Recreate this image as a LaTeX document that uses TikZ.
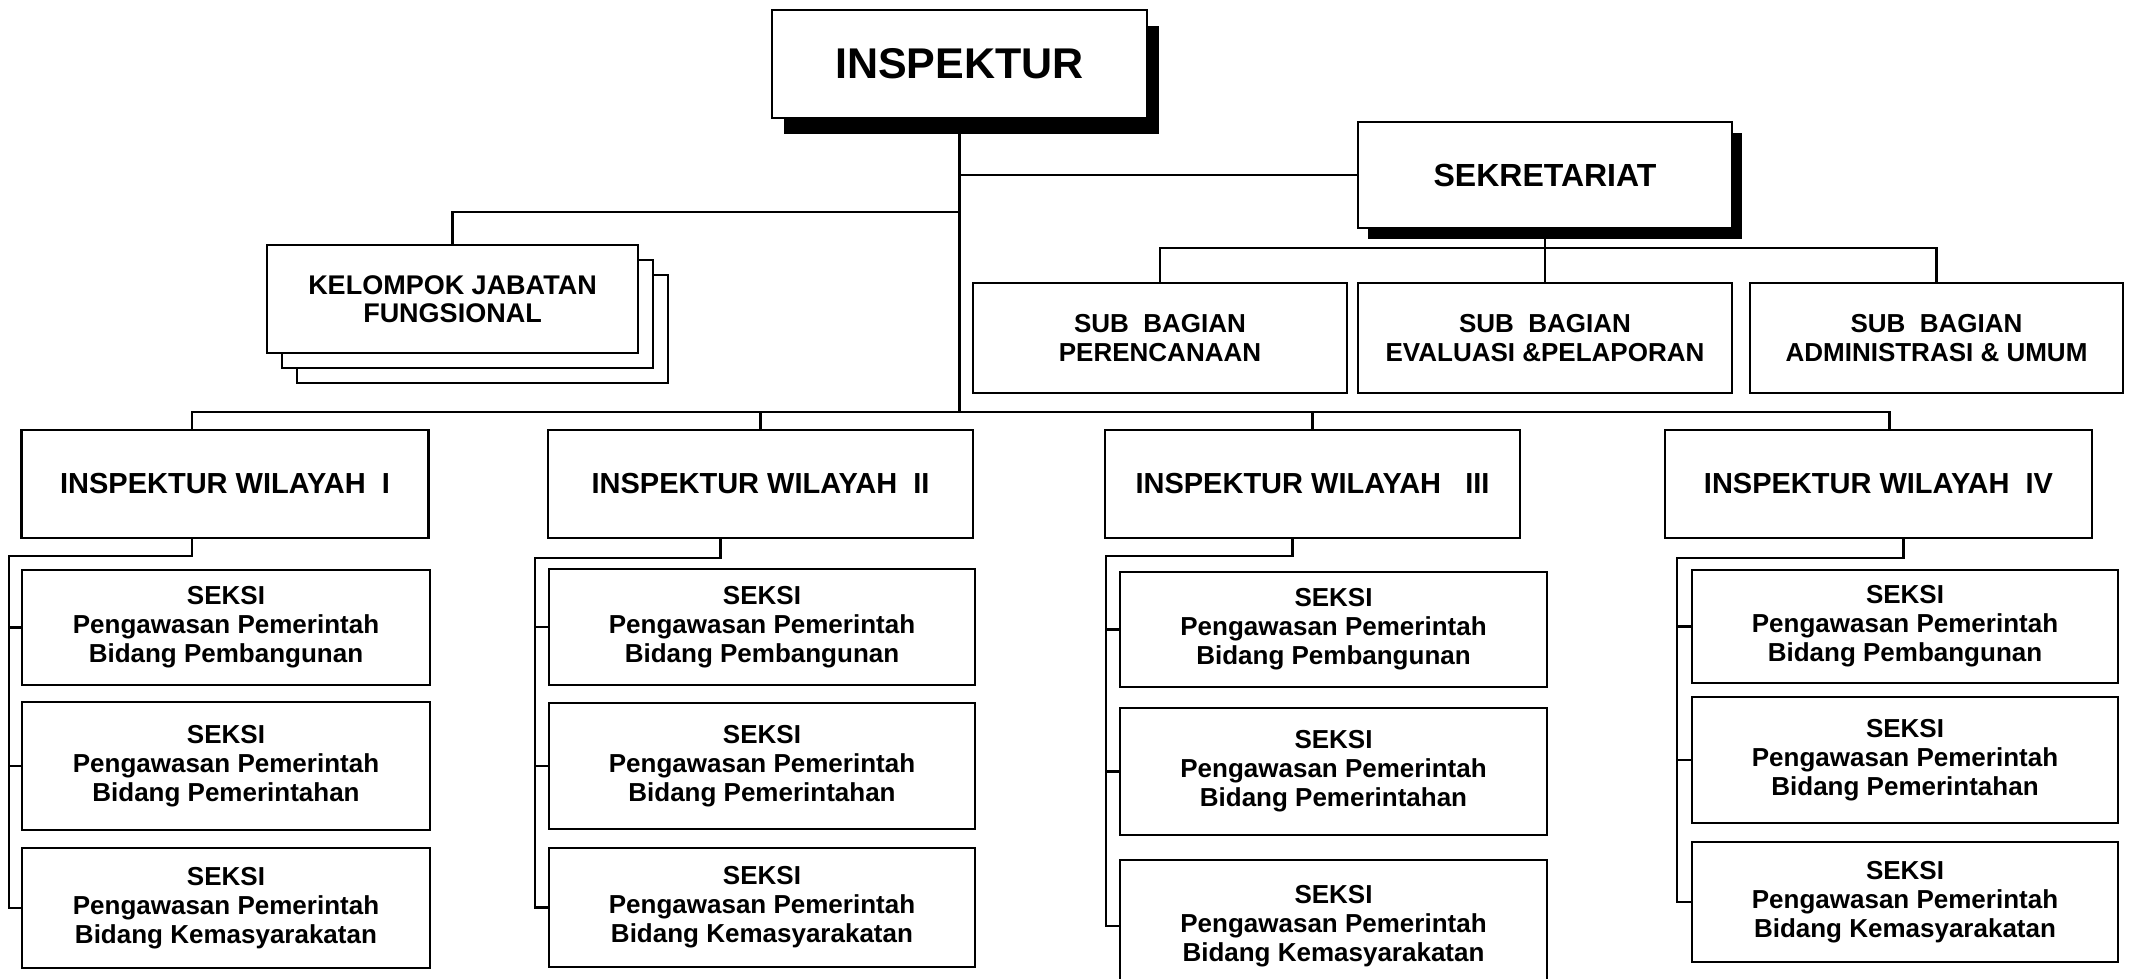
\documentclass[tikz,border=0pt]{standalone}
\usepackage{fontspec}
\setmainfont{Liberation Sans}
\usetikzlibrary{shadows, positioning, calc}

\tikzset{
  box/.style={draw, fill=white, line width=2.4pt, align=center, inner sep=0pt,
    font=\fontsize{26}{29}\selectfont\bfseries},
  wbox/.style={box, minimum height=108pt, font=\fontsize{29}{32}\selectfont\bfseries},
  link/.style={line width=2.4pt},
  stackcopy/.style={copy shadow={shadow xshift=#1pt, shadow yshift=-#1pt, draw=black, fill=white, line width=2.4pt}},
}

\begin{document}
\begin{tikzpicture}[x=1pt, y=-1pt]
\useasboundingbox (0,0) rectangle (2133,978);

% pimpinan
\node[box, minimum width=375pt, minimum height=108pt, font=\fontsize{43}{48}\selectfont\bfseries,
  drop shadow={shadow xshift=12pt, shadow yshift=-16pt, fill=black, opacity=1}] (insp) at (959.5,64) {INSPEKTUR};

\node[box, minimum width=374pt, minimum height=106pt, font=\fontsize{32}{36}\selectfont\bfseries,
  drop shadow={shadow xshift=10pt, shadow yshift=-11pt, fill=black, opacity=1}] (sekr) at (1545,175) {SEKRETARIAT};

\node[box, minimum width=371pt, minimum height=108pt, font=\fontsize{27}{28}\selectfont\bfseries,
  stackcopy=30, stackcopy=15] (kjf) at (452.5,299) {KELOMPOK JABATAN\\FUNGSIONAL};

% sub bagian
\node[box, minimum width=374pt, minimum height=110pt] (sb1) at (1160,338) {SUB~~BAGIAN\\PERENCANAAN};
\node[box, minimum width=374pt, minimum height=110pt] (sb2) at (1545,338) {SUB~~BAGIAN\\EVALUASI \&PELAPORAN};
\node[box, minimum width=373pt, minimum height=110pt] (sb3) at (1936.5,338) {SUB~~BAGIAN\\ADMINISTRASI \& UMUM};

% inspektur wilayah
\node[wbox, minimum width=407pt] (wI) at (225,484) {INSPEKTUR WILAYAH~~I};
\node[wbox, minimum width=425pt] (wII) at (760.5,484) {INSPEKTUR WILAYAH~~II};
\node[wbox, minimum width=415pt] (wIII) at (1312.5,484) {INSPEKTUR WILAYAH~~~III};
\node[wbox, minimum width=427pt] (wIV) at (1878.5,484) {INSPEKTUR WILAYAH~~IV};

% seksi wilayah I
\node[box, minimum width=408pt, minimum height=115pt] (sI1) at (226,627.5) {SEKSI\\Pengawasan Pemerintah\\Bidang Pembangunan};
\node[box, minimum width=408pt, minimum height=128pt] (sI2) at (226,766) {SEKSI\\Pengawasan Pemerintah\\Bidang Pemerintahan};
\node[box, minimum width=408pt, minimum height=120pt] (sI3) at (226,908) {SEKSI\\Pengawasan Pemerintah\\Bidang Kemasyarakatan};

% seksi wilayah II
\node[box, minimum width=426pt, minimum height=116pt] (sII1) at (762,627) {SEKSI\\Pengawasan Pemerintah\\Bidang Pembangunan};
\node[box, minimum width=426pt, minimum height=126pt] (sII2) at (762,766) {SEKSI\\Pengawasan Pemerintah\\Bidang Pemerintahan};
\node[box, minimum width=426pt, minimum height=119pt] (sII3) at (762,907.5) {SEKSI\\Pengawasan Pemerintah\\Bidang Kemasyarakatan};

% seksi wilayah III
\node[box, minimum width=427pt, minimum height=115pt] (sIII1) at (1333.5,629.5) {SEKSI\\Pengawasan Pemerintah\\Bidang Pembangunan};
\node[box, minimum width=427pt, minimum height=127pt] (sIII2) at (1333.5,771.5) {SEKSI\\Pengawasan Pemerintah\\Bidang Pemerintahan};
\node[box, minimum width=427pt, minimum height=132pt] (sIII3) at (1333.5,926) {SEKSI\\Pengawasan Pemerintah\\Bidang Kemasyarakatan};

% seksi wilayah IV
\node[box, minimum width=426pt, minimum height=113pt] (sIV1) at (1905,626.5) {SEKSI\\Pengawasan Pemerintah\\Bidang Pembangunan};
\node[box, minimum width=426pt, minimum height=126pt] (sIV2) at (1905,760) {SEKSI\\Pengawasan Pemerintah\\Bidang Pemerintahan};
\node[box, minimum width=426pt, minimum height=120pt] (sIV3) at (1905,902) {SEKSI\\Pengawasan Pemerintah\\Bidang Kemasyarakatan};

% garis
\coordinate (bus) at (959.5,412);
\coordinate (kjfjoin) at (959.5,212);
\coordinate (subbus) at (1545,248);

\draw[link] (insp.south) -- (bus);
\draw[link] (insp.south |- sekr.west) -- (sekr.west);
\draw[link] (kjf.north) |- (kjfjoin);
\draw[link] (sekr.south) -- (subbus);
\draw[link] (sb1.north) |- (subbus) -| (sb3.north);
\draw[link] (subbus) -- (sb2.north);

\draw[link] ([xshift=-33pt]wI.north) |- (bus) -| ([xshift=11pt]wIV.north);
\draw[link] (wII.north) -- (wII.north |- bus);
\draw[link] (wIII.north) -- (wIII.north |- bus);

\draw[link] ([xshift=-33pt]wI.south) -- ++(0,17) -| ([xshift=-12pt]sI3.west) -- (sI3.west);
\draw[link] (sI1.west) -- ++(-12,0);
\draw[link] (sI2.west) -- ++(-12,0);

\draw[link] ([xshift=-40pt]wII.south) -- ++(0,19) -| ([xshift=-13pt]sII3.west) -- (sII3.west);
\draw[link] (sII1.west) -- ++(-13,0);
\draw[link] (sII2.west) -- ++(-13,0);

\draw[link] ([xshift=-20pt]wIII.south) -- ++(0,17) -| ([xshift=-13pt]sIII3.west) -- (sIII3.west);
\draw[link] (sIII1.west) -- ++(-13,0);
\draw[link] (sIII2.west) -- ++(-13,0);

\draw[link] ([xshift=25pt]wIV.south) -- ++(0,19) -| ([xshift=-14pt]sIV3.west) -- (sIV3.west);
\draw[link] (sIV1.west) -- ++(-14,0);
\draw[link] (sIV2.west) -- ++(-14,0);

\end{tikzpicture}
\end{document}
